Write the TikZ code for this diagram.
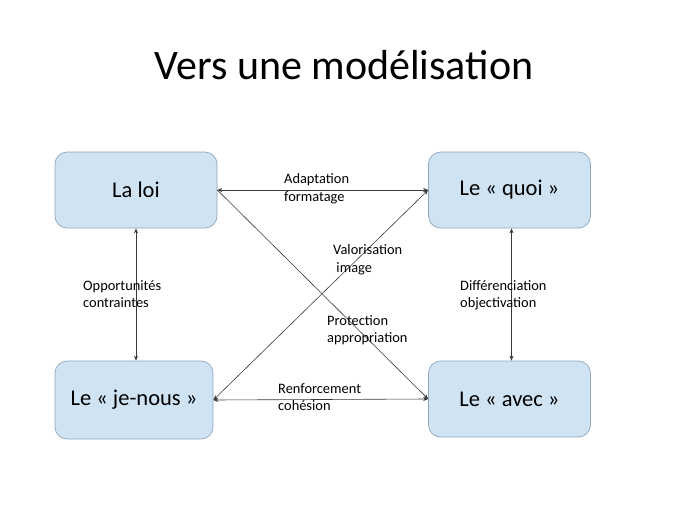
\documentclass[tikz,border=0pt]{standalone}
\usepackage{fontspec}
\setmainfont{Carlito}
\usetikzlibrary{arrows.meta}
\definecolor{boxfill}{HTML}{CFE3F3}
\definecolor{boxline}{HTML}{8FA6BC}
\definecolor{linkcol}{HTML}{3A3A3A}
\begin{document}
\begin{tikzpicture}[x=1pt,y=-1pt,
    pole/.style={draw=boxline, fill=boxfill, rounded corners=12pt, line width=0.7pt,
      minimum width=162pt, minimum height=76pt, font=\fontsize{22.5}{27}\selectfont},
    link/.style={linkcol, line width=0.6pt},
    twoway/.style={link, {Stealth[length=5pt,width=4pt]}-{Stealth[length=5pt,width=4pt]}},
    oneway/.style={link, -{Stealth[length=5pt,width=4pt]}},
    tag/.style={align=left, anchor=base west, inner sep=0pt, font=\fontsize{14.4}{17.5}\selectfont}]
  \useasboundingbox (0,0) rectangle (689,517);

  % Title
  \node (title) at (344,65) {\fontsize{42}{48}\selectfont Vers une modélisation};

  % The four poles
  \node[pole] (loi) at (136,190) {La loi};
  \node[pole] (quoi) at (509.5,190) {Le « quoi »};
  \node[pole, minimum width=158pt, minimum height=78pt] (jenous) at (134,400) {Le « je-nous »};
  \node[pole] (avec) at (509.5,399) {Le « avec »};

  % Links
  \draw[twoway] (loi.east) -- (quoi.west);
  \draw[twoway] (jenous.east) -- (avec.west);
  \draw[twoway] (loi.south) -- (loi.south |- jenous.north);
  \draw[twoway] ([xshift=2pt]quoi.south) -- ([xshift=2pt]quoi.south |- avec.north);
  \draw[oneway] (loi.east) -- (avec.west);
  \draw[twoway] (quoi.west) -- (jenous.east);

  % Labels (anchored on the baseline of their second line)
  \node[tag] (adapt) at (284,201) {Adaptation\\formatage};
  \node[tag] (valor) at (333,272) {Valorisation\\\ image};
  \node[tag] (opport) at (83,307.5) {Opportunités\\contraintes};
  \node[tag] (differ) at (460,307.5) {Différenciation\\objectivation};
  \node[tag] (protect) at (327,342.5) {Protection\\appropriation};
  \node[tag] (renfor) at (278,410.5) {Renforcement\\cohésion};
\end{tikzpicture}
\end{document}
